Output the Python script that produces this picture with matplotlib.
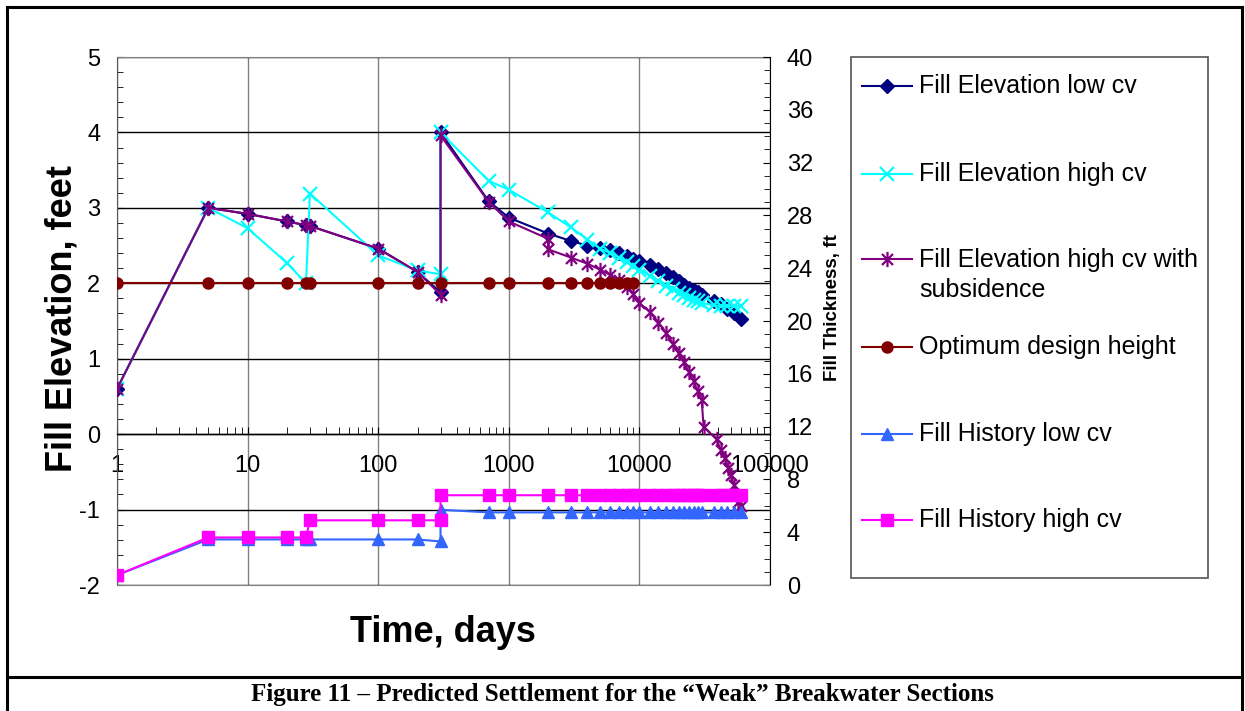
import matplotlib
matplotlib.use('Agg')
import matplotlib.pyplot as plt
import matplotlib.ticker as mticker
from matplotlib.lines import Line2D
from matplotlib.patches import Rectangle
from matplotlib.path import Path

plt.rcParams['font.family'] = ['Liberation Sans', 'DejaVu Sans']
plt.rcParams['axes.unicode_minus'] = False

# ---------------- data ----------------
time_days = [1, 5, 10, 20, 28, 30, 100, 200, 300, 300, 700, 1000, 2000, 3000, 4000,
             5000, 6000, 7000, 8000, 9000, 10000, 12000, 14000, 16000, 18000, 20000,
             22000, 24000, 26000, 28000, 30000, 37000, 42000, 47000, 53000, 60000]

elev_low_cv = [0.60, 3.00, 2.92, 2.82, 2.77, 2.76, 2.46, 2.15, 1.88, 4.00, 3.09, 2.87,
               2.66, 2.56, 2.50, 2.47, 2.44, 2.40, 2.36, 2.32, 2.29, 2.24, 2.19, 2.13,
               2.08, 2.03, 1.98, 1.94, 1.91, 1.88, 1.85, 1.77, 1.72, 1.66, 1.60, 1.53]

elev_high_cv = [0.60, 3.00, 2.73, 2.27, 2.00, 3.19, 2.37, 2.17, 2.12, 4.00, 3.36, 3.24,
                2.94, 2.74, 2.58, 2.46, 2.40, 2.34, 2.28, 2.23, 2.18, 2.10, 2.03, 1.97,
                1.92, 1.87, 1.84, 1.81, 1.78, 1.76, 1.74, 1.71, 1.70, 1.70, 1.70, 1.70]

time_subs = [1, 5, 10, 20, 28, 30, 100, 200, 300, 300, 700, 1000, 2000, 2000, 3000, 4000,
             5000, 6000, 7000, 8000, 9000, 10000, 12000, 14000, 16000, 18000, 20000,
             22000, 24000, 26000, 28000, 30000, 31000, 39000, 42000, 45000, 48000,
             50000, 53000, 57000, 60000]

elev_high_cv_subs = [0.60, 3.00, 2.92, 2.82, 2.77, 2.76, 2.46, 2.15, 1.85, 3.96, 3.08, 2.82,
                     2.59, 2.45, 2.34, 2.26, 2.18, 2.11, 2.04, 1.95, 1.86, 1.74, 1.62, 1.48,
                     1.34, 1.20, 1.07, 0.95, 0.82, 0.70, 0.57, 0.45, 0.10, -0.07, -0.21,
                     -0.32, -0.45, -0.54, -0.68, -0.90, -0.95]

time_design = [1, 5, 10, 20, 28, 30, 100, 200, 300, 700, 1000, 2000, 3000, 4000,
               5000, 6000, 7000, 8000, 9000]
design_height = [2.0, 2.0, 2.0, 2.0, 2.0, 2.0, 2.0, 2.0, 2.0, 2.0, 2.0, 2.0, 2.0, 2.0,
                 2.0, 2.0, 2.0, 2.0, 2.0]

hist_low_cv = [0.75, 3.45, 3.45, 3.45, 3.45, 3.45, 3.45, 3.45, 3.30, 5.70, 5.50, 5.50,
               5.50, 5.50, 5.50, 5.50, 5.50, 5.50, 5.50, 5.50, 5.50, 5.50, 5.50, 5.50,
               5.50, 5.50, 5.50, 5.50, 5.50, 5.50, 5.50, 5.50, 5.50, 5.50, 5.50, 5.50]

hist_high_cv = [0.75, 3.60, 3.60, 3.60, 3.60, 4.90, 4.90, 4.90, 4.90, 6.80, 6.80, 6.80,
                6.80, 6.80, 6.80, 6.80, 6.80, 6.80, 6.80, 6.80, 6.80, 6.80, 6.80, 6.80,
                6.80, 6.80, 6.80, 6.80, 6.80, 6.80, 6.80, 6.80, 6.80, 6.80, 6.80, 6.80]

x_tick_vals = [1, 10, 100, 1000, 10000, 100000]
x_tick_labels = ['1', '10', '100', '1000', '10000', '100000']
left_ticks = [-2, -1, 0, 1, 2, 3, 4, 5]
right_ticks = [0, 4, 8, 12, 16, 20, 24, 28, 32, 36, 40]

series_labels = ['Fill Elevation low cv', 'Fill Elevation high cv',
                 'Fill Elevation high cv with\nsubsidence', 'Optimum design height',
                 'Fill History low cv', 'Fill History high cv']

# ---------------- styles ----------------
W, H = 1245, 711
C_NAVY = '#000080'
C_CYAN = '#00FFFF'
C_PURPLE = '#800080'
C_DRED = '#800000'
C_BLUE = '#3366FF'
C_MAG = '#FF00FF'

star = Path([(0, -1), (0, 1), (-0.72, -0.72), (0.72, 0.72), (-0.72, 0.72), (0.72, -0.72)],
            [Path.MOVETO, Path.LINETO, Path.MOVETO, Path.LINETO, Path.MOVETO, Path.LINETO])

styles = [
    dict(color=C_NAVY, marker='D', ms=7, mfc=C_NAVY, mec=C_NAVY, lw=1.5),
    dict(color=C_CYAN, marker='x', ms=10, mec=C_CYAN, mew=1.6, lw=1.5),
    dict(color=C_PURPLE, marker=star, ms=11, mec=C_PURPLE, mfc='none', mew=1.6, lw=1.5),
    dict(color=C_DRED, marker='o', ms=8, mfc=C_DRED, mec=C_DRED, lw=1.5),
    dict(color=C_BLUE, marker='^', ms=9, mfc=C_BLUE, mec=C_BLUE, lw=1.5),
    dict(color=C_MAG, marker='s', ms=8, mfc=C_MAG, mec=C_MAG, lw=1.5),
]


def fx(x):
    return x / W


def fy(y):
    return 1 - y / H


fig = plt.figure(figsize=(W / 100, H / 100), dpi=100)

ax_l, ax_r, ax_t, ax_b = 117, 770, 57, 585
ax = fig.add_axes([fx(ax_l), fy(ax_b), fx(ax_r - ax_l), (ax_b - ax_t) / H])
ax.set_xscale('log')
ax.set_xlim(1, 100000)
ax.set_ylim(-2, 5)

ax.plot(time_days, elev_low_cv, **styles[0], zorder=3)
ax.plot(time_days, elev_high_cv, **styles[1], zorder=3.1)
ax.plot(time_subs, elev_high_cv_subs, **styles[2], zorder=3.2)
ax.plot(time_design, design_height, **styles[3], zorder=3.3)

# x axis crossing at y=0
ax.spines['bottom'].set_position(('data', 0))
ax.spines['bottom'].set_color('black')
ax.spines['bottom'].set_linewidth(1.0)
ax.spines['left'].set_color('#555555')
ax.spines['top'].set_color('#808080')
ax.spines['right'].set_visible(False)

ax.xaxis.set_major_locator(mticker.FixedLocator(x_tick_vals))
ax.xaxis.set_major_formatter(mticker.FixedFormatter(x_tick_labels))
ax.xaxis.set_minor_locator(mticker.LogLocator(base=10, subs=[2, 3, 4, 5, 6, 7, 8, 9], numticks=20))
ax.xaxis.set_minor_formatter(mticker.NullFormatter())
ax.tick_params(axis='x', which='major', direction='in', length=5, labelsize=17, pad=15)
ax.tick_params(axis='x', which='minor', direction='in', length=5)

ax.yaxis.set_major_locator(mticker.FixedLocator(left_ticks))
ax.yaxis.set_minor_locator(mticker.MultipleLocator(0.2))
ax.tick_params(axis='y', which='major', direction='in', length=5, labelsize=17, pad=12)
ax.tick_params(axis='y', which='minor', direction='in', length=4)

ax.grid(axis='x', which='major', color='#808080', lw=1.0)
ax.grid(axis='y', which='major', color='black', lw=1.0)

ax2 = ax.twinx()
ax2.set_ylim(0, 40)
ax2.plot(time_days, hist_low_cv, **styles[4], zorder=3)
ax2.plot(time_days, hist_high_cv, **styles[5], zorder=3.1)
ax2.yaxis.set_major_locator(mticker.FixedLocator(right_ticks))
ax2.yaxis.set_minor_locator(mticker.MultipleLocator(1))
ax2.tick_params(axis='y', which='major', direction='in', length=5, labelsize=17, pad=12)
ax2.tick_params(axis='y', which='minor', direction='in', length=4)
ax2.spines['left'].set_visible(False)
ax2.spines['top'].set_visible(False)
ax2.spines['right'].set_color('black')
ax2.spines['bottom'].set_color('#808080')

# axis titles
fig.text(fx(62), fy(318), 'Fill Elevation, feet', rotation=90, ha='center', va='center',
         fontsize=26, fontweight='bold')
fig.text(fx(443), fy(632), 'Time, days', ha='center', va='center',
         fontsize=26, fontweight='bold')
fig.text(fx(833), fy(308), 'Fill Thickness, ft', rotation=90, ha='center', va='center',
         fontsize=13.5, fontweight='bold')

# legend (manual box)
fig.add_artist(Rectangle((fx(851), fy(578)), fx(1208 - 851), (578 - 57) / H,
                         transform=fig.transFigure, fill=False, edgecolor='#555555', lw=1.2))
legend_y = [86, 174, 259, 347, 434, 520]
for lab, st, yy in zip(series_labels, styles, legend_y):
    kw = dict(st)
    fig.add_artist(Line2D([fx(862), fx(887), fx(912)], [fy(yy)] * 3, transform=fig.transFigure,
                          markevery=[1], **kw))
    if '\n' in lab:
        fig.text(fx(919), fy(yy + 16), lab, ha='left', va='center',
                 fontsize=18, linespacing=1.3)
    else:
        fig.text(fx(919), fy(yy), lab, ha='left', va='center', fontsize=18)

# figure border and caption separator
lw_b = 2.2
fig.add_artist(Line2D([fx(7), fx(7)], [fy(7), 0], transform=fig.transFigure, color='black', lw=lw_b))
fig.add_artist(Line2D([fx(7), fx(1242)], [fy(7), fy(7)], transform=fig.transFigure, color='black', lw=lw_b))
fig.add_artist(Line2D([fx(1242), fx(1242)], [fy(7), 0], transform=fig.transFigure, color='black', lw=lw_b))
fig.add_artist(Line2D([fx(7), fx(1242)], [fy(677), fy(677)], transform=fig.transFigure, color='black', lw=lw_b))

fig.text(fx(622), fy(694), 'Figure 11 \u2013 Predicted Settlement for the \u201cWeak\u201d Breakwater Sections',
         ha='center', va='center', fontsize=18, fontweight='bold',
         family=['Liberation Serif', 'DejaVu Serif'])

fig.savefig('out.png', dpi=100)
